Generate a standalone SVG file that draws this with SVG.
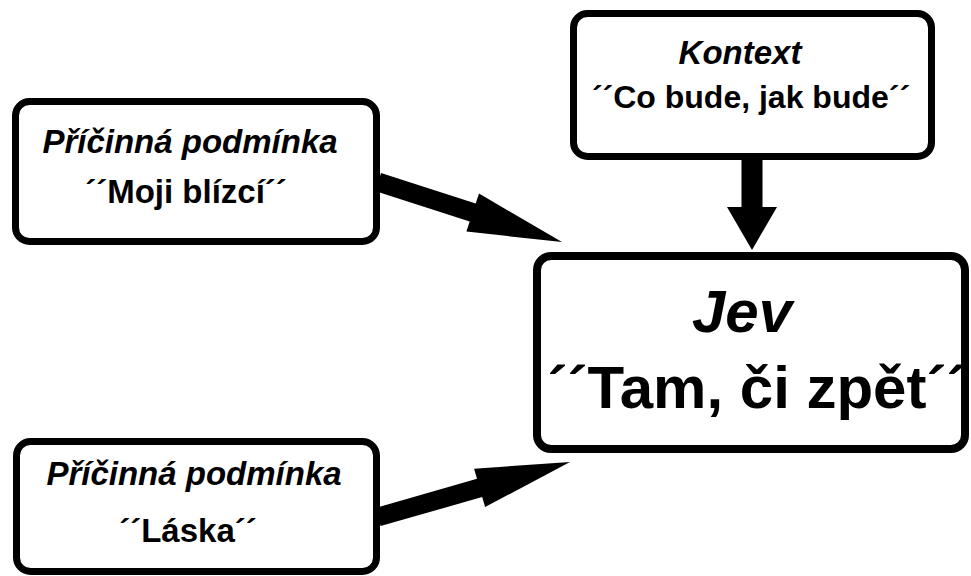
<svg xmlns="http://www.w3.org/2000/svg" width="971" height="576" viewBox="0 0 971 576">
<style>
.box{fill:#fff;stroke:#000;stroke-width:7}
.t{font-family:"Liberation Sans",Arial,sans-serif;font-weight:bold;fill:#000;text-anchor:middle}
.i{font-style:italic}
.arr{fill:#000;stroke:none}
</style>
<rect width="971" height="576" fill="#fff"/>
<g id="connectors">
<polygon class="arr" points="375.0,191.0 381.0,173.0 475.7,203.6 479.0,193.6 562,242 466.4,231.6 469.7,221.6"/>
<polygon class="arr" points="375.4,507.9 477.0,478.8 474.1,468.7 570,462 485.1,507.1 482.2,497.0 380.6,526.1"/>
<polygon class="arr" points="741.5,158 762.5,158 762.5,207 777,207 752,250 727,207 741.5,207"/>
</g>
<g id="node-pricina1">
<rect class="box" x="15.5" y="101.5" width="361" height="140" rx="14"/>
<text class="t i" x="190" y="153" font-size="33">Příčinná podmínka</text>
<text class="t" x="186" y="203" font-size="33">´´Moji blízcí´´</text>
</g>
<g id="node-kontext">
<rect class="box" x="573.5" y="13.5" width="358" height="143" rx="14"/>
<text class="t i" x="740" y="64" font-size="33">Kontext</text>
<text class="t" x="751" y="108" font-size="32">´´Co bude, jak bude´´</text>
</g>
<g id="node-jev">
<rect class="box" x="537" y="256" width="428" height="193" rx="14" style="stroke-width:8"/>
<text class="t i" x="742" y="332" font-size="60">Jev</text>
<text class="t" x="757" y="408" font-size="60">´´Tam, či zpět´´</text>
</g>
<g id="node-pricina2">
<rect class="box" x="16.5" y="441.5" width="360" height="130" rx="14"/>
<text class="t i" x="194" y="485" font-size="33">Příčinná podmínka</text>
<text class="t" x="188" y="542" font-size="33">´´Láska´´</text>
</g>
</svg>
